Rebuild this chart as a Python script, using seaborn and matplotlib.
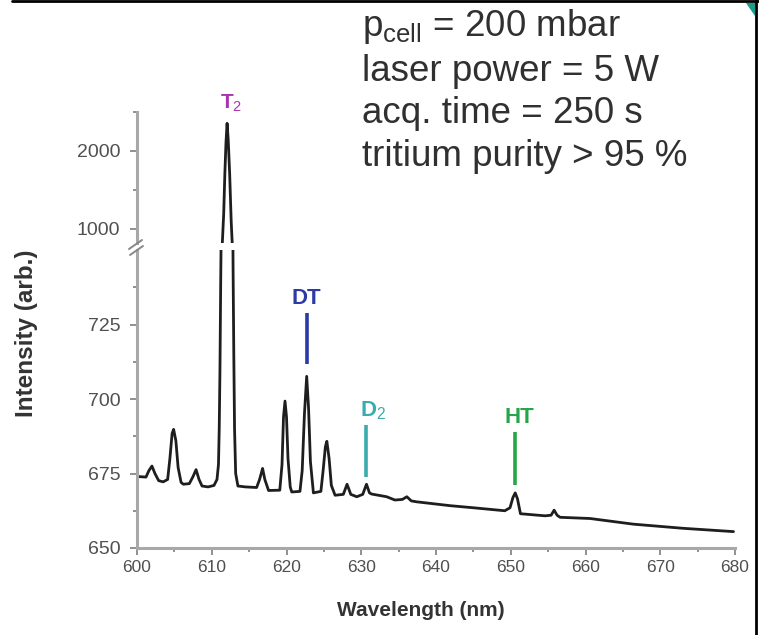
import matplotlib
matplotlib.use("Agg")
import matplotlib.pyplot as plt
import seaborn as sns
import numpy as np
import pandas as pd
from matplotlib.lines import Line2D
from matplotlib.patches import Polygon
from matplotlib.ticker import MultipleLocator, FixedLocator

# ---------------- data ----------------
wavelength_nm = [600.0, 601.2, 601.6, 602.0, 602.4, 602.9, 603.5, 604.1, 604.4, 604.7,
                 604.9, 605.2, 605.5, 605.9, 606.2, 607.0, 607.5, 607.9, 608.3, 608.7,
                 609.5, 610.3, 610.7, 610.9, 611.0, 611.1, 611.2, 611.4, 611.6, 611.75,
                 611.9, 612.05, 612.2, 612.4, 612.6, 612.75, 612.85, 612.95, 613.05, 613.2,
                 613.5, 614.5, 616.0, 616.4, 616.8, 617.1, 617.6, 619.1, 619.4, 619.6,
                 619.8, 620.0, 620.2, 620.5, 620.7, 621.8, 622.1, 622.4, 622.7, 622.95,
                 623.2, 623.6, 624.6, 624.9, 625.2, 625.4, 625.7, 626.0, 626.5, 627.6,
                 628.1, 628.6, 629.4, 630.2, 630.7, 631.1, 631.4, 633.4, 634.5, 635.5,
                 636.1, 636.7, 637.4, 641.9, 645.0, 649.2, 649.9, 650.3, 650.6, 650.9,
                 651.3, 654.6, 655.4, 655.8, 656.2, 656.6, 660.6, 666.4, 673.1, 679.8]
intensity = [674.0, 673.8, 676.0, 677.5, 675.0, 672.6, 672.2, 673.0, 680.0, 688.5,
             689.8, 686.0, 677.0, 672.0, 671.4, 671.6, 674.0, 676.3, 673.0, 670.8,
             670.5, 671.0, 673.0, 678.0, 690.0, 710.0, 740.0, 790.0, 1200.0, 1700.0,
             2100.0, 2355.0, 2150.0, 1700.0, 1100.0, 790.0, 745.0, 715.0, 690.0, 675.0,
             670.8, 670.5, 670.3, 673.0, 676.7, 673.0, 669.3, 669.4, 678.0, 694.0,
             699.3, 694.0, 680.0, 670.5, 668.8, 669.0, 676.0, 695.0, 707.6, 697.0,
             679.0, 668.5, 669.0, 676.0, 684.0, 685.8, 680.0, 671.0, 667.7, 668.0,
             671.4, 668.0, 667.2, 668.0, 671.4, 668.5, 668.1, 667.2, 666.1, 666.3,
             667.2, 665.8, 665.5, 664.2, 663.5, 662.5, 663.5, 667.0, 668.5, 666.5,
             661.5, 660.8, 661.0, 662.7, 661.0, 660.3, 659.9, 658.0, 656.6, 655.5]

x_ticks = [600, 610, 620, 630, 640, 650, 660, 670, 680]
y_ticks_low = [650, 675, 700, 725]
y_ticks_high = [1000, 2000]

# peak markers: label, wavelength, line start, line end, label position
peak_labels = ["DT", "D$_2$", "HT"]
peak_wl = [622.7, 630.7, 650.6]
peak_line_lo = [711.7, 673.9, 671.1]
peak_line_hi = [728.9, 691.3, 688.9]
peak_label_wl = [622.7, 631.6, 651.1]
peak_label_val = [731.8, 694.0, 692.0]
peak_colors = ["#2b3aa6", "#3aacad", "#27a649"]

info_lines = ["p$_{\\mathrm{cell}}$ = 200 mbar", "laser power = 5 W",
              "acq. time = 250 s", "tritium purity > 95 %"]

df = pd.DataFrame({"wl": wavelength_nm, "I": intensity})

# ---------------- style ----------------
sns.set_style("ticks")
plt.rcParams["font.family"] = ["Liberation Sans", "DejaVu Sans"]
plt.rcParams["mathtext.fontset"] = "custom"
plt.rcParams["mathtext.rm"] = "Liberation Sans"
plt.rcParams["mathtext.it"] = "Liberation Sans:italic"
plt.rcParams["mathtext.bf"] = "Liberation Sans:bold"

W, H = 759, 635
fig = plt.figure(figsize=(W / 100, H / 100), dpi=100)
fig.patch.set_facecolor("white")


def fx(x):
    return x / W


def fy(y):
    return 1 - y / H


left, right = fx(137), fx(735)
ax_lo = fig.add_axes([left, fy(548), right - left, fy(250) - fy(548)])
ax_hi = fig.add_axes([left, fy(243), right - left, fy(112) - fy(243)])

spine_c = "#a8a8a8"
tick_c = "#505050"
for ax in (ax_lo, ax_hi):
    sns.lineplot(data=df, x="wl", y="I", ax=ax, color="#1e1e1e", linewidth=2.0,
                 estimator=None, sort=False)
    ax.set_xlim(600, 680)
    ax.set_facecolor("white")
    for s in ("top", "right"):
        ax.spines[s].set_visible(False)
    ax.spines["left"].set_color(spine_c)
    ax.spines["left"].set_linewidth(2.2)
    ax.spines["bottom"].set_color(spine_c)
    ax.spines["bottom"].set_linewidth(2.2)
    ax.tick_params(axis="y", which="major", direction="out", length=5, width=1.3,
                   color="#888888", labelcolor=tick_c, labelsize=14, pad=7)
    ax.tick_params(axis="y", which="minor", direction="out", length=3, width=1.3,
                   color="#888888")
    ax.set_xlabel("")
    ax.set_ylabel("")

ax_lo.set_ylim(650, 750)
ax_lo.yaxis.set_major_locator(FixedLocator(y_ticks_low))
ax_lo.yaxis.set_minor_locator(FixedLocator([662.5, 687.5, 712.5, 737.5]))
ax_lo.xaxis.set_major_locator(FixedLocator(x_ticks))
ax_lo.xaxis.set_minor_locator(MultipleLocator(5))
ax_lo.tick_params(axis="x", which="major", direction="out", length=5, width=1.3,
                  color="#888888", labelcolor=tick_c, labelsize=12.5, pad=4)
ax_lo.tick_params(axis="x", which="minor", direction="out", length=3, width=1.3,
                  color="#888888")

ax_hi.set_ylim(820, 2500)
ax_hi.yaxis.set_major_locator(FixedLocator(y_ticks_high))
ax_hi.yaxis.set_minor_locator(FixedLocator([1500, 2500]))
ax_hi.spines["bottom"].set_visible(False)
ax_hi.tick_params(axis="x", which="both", bottom=False, labelbottom=False)

# axis labels
fig.text(fx(421), fy(610), "Wavelength (nm)", ha="center", va="center",
         fontsize=15, fontweight="bold", color="#333333")
fig.text(fx(27), fy(333), "Intensity (arb.)", ha="center", va="center",
         rotation=90, fontsize=17.5, fontweight="bold", color="#333333")

# axis break marks
for (x0, y0, x1, y1) in [(129, 249, 142, 240), (130, 255, 143, 246)]:
    fig.add_artist(Line2D([fx(x0), fx(x1)], [fy(y0), fy(y1)], color="#888888",
                          linewidth=1.4, transform=fig.transFigure))

# peak markers
for lab, wl, lo, hi, lwl, lval, c in zip(peak_labels, peak_wl, peak_line_lo,
                                         peak_line_hi, peak_label_wl,
                                         peak_label_val, peak_colors):
    ax_lo.plot([wl, wl], [lo, hi], color=c, linewidth=2.6, solid_capstyle="butt")
    ax_lo.text(lwl, lval, lab, color=c, fontsize=16, fontweight="bold",
               ha="center", va="baseline")
ax_hi.text(612.6, 2545, "T$_2$", color="#aa33b0", fontsize=15, fontweight="bold",
           ha="center", va="baseline", clip_on=False)

# info text block
for i, (line, yb) in enumerate(zip(info_lines, [36, 81, 123, 166])):
    fig.text(fx(362), fy(yb), line, ha="left", va="baseline", fontsize=26.5,
             color="#303030")

# screenshot frame artefacts
fig.add_artist(Line2D([fx(12), fx(759)], [fy(1.2), fy(1.2)], color="black",
                      linewidth=2.0, transform=fig.transFigure))
fig.add_artist(Line2D([fx(756), fx(756)], [fy(0), fy(635)], color="black",
                      linewidth=2.0, transform=fig.transFigure))
fig.add_artist(Polygon([[fx(746), fy(3)], [fx(755), fy(3)], [fx(755), fy(16)]],
                       closed=True, facecolor="#1a9e8c", edgecolor="none",
                       transform=fig.transFigure))

fig.savefig("out.png", dpi=100, facecolor="white")
